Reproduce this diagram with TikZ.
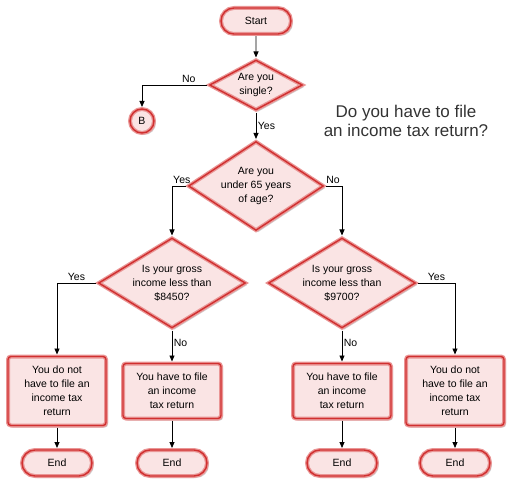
\documentclass[tikz,border=0pt]{standalone}
\usepackage{fontspec}
\setmainfont{Liberation Sans}
\usetikzlibrary{positioning, shapes.geometric, shapes.misc, arrows.meta, shadows}

\definecolor{boxfill}{RGB}{250,228,228}
\definecolor{boxedge}{RGB}{208,48,48}
\definecolor{boxglow}{RGB}{234,150,150}
\definecolor{titlegray}{RGB}{51,51,51}

\begin{document}
\begin{tikzpicture}[
  x=1pt, y=-1pt,
  >={Triangle[length=6pt,width=5pt]},
  every node/.style={font=\fontsize{10.5}{14}\selectfont},
  shapebase/.style={fill=boxfill, draw=boxglow, line width=4pt, align=center, inner sep=0pt,
    drop shadow={shadow xshift=2pt, shadow yshift=-2pt, opacity=0.18, fill=black},
    postaction={draw=boxedge, line width=1.4pt}},
  term/.style={shapebase, rounded rectangle, minimum width=70pt, minimum height=26pt},
  decision/.style={shapebase, diamond},
  result/.style={shapebase, rectangle, rounded corners=3pt, minimum width=98pt},
  conn/.style={shapebase, circle, minimum size=24pt},
  lbl/.style={inner sep=1.5pt},
  flow/.style={->, line width=0.8pt, black}
]
\useasboundingbox (0,0) rectangle (512,484);

% Top: start and marital status
\node[term] (start) at (256,21) {Start};
\node[decision, aspect=1.8, minimum width=94pt, minimum height=51pt] (single) at (256,85) {Are you\\single?};
\node[conn] (b) at (142,121) {B};
\node[font=\fontsize{17}{19.5}\selectfont, text=titlegray, align=center] (title) at (406,121)
  {Do you have to file\\an income tax return?};

% Age question
\node[decision, aspect=1.5, minimum width=136pt, minimum height=90pt] (age) at (256,186)
  {Are you\\under 65 years\\of age?};

% Income questions
\node[decision, aspect=1.61, minimum width=148pt, minimum height=91pt] (incyoung) at (172,283)
  {Is your gross\\income less than\\\$8450?};
\node[decision, aspect=1.61, minimum width=148pt, minimum height=91pt] (incold) at (342,283)
  {Is your gross\\income less than\\\$9700?};

% Answers
\node[result, minimum height=69pt] (nofile1) at (57,391) {You do not\\have to file an\\income tax\\return};
\node[result, minimum height=55pt] (file1) at (172,391) {You have to file\\an income\\tax return};
\node[result, minimum height=55pt] (file2) at (342,391) {You have to file\\an income\\tax return};
\node[result, minimum height=69pt] (nofile2) at (455,391) {You do not\\have to file an\\income tax\\return};

% Ends
\node[term] (end1) at (57,463) {End};
\node[term] (end2) at (172,463) {End};
\node[term] (end3) at (342,463) {End};
\node[term] (end4) at (455,463) {End};

% Connectors
\draw[flow] (start) -- (single);
\draw[flow] (single.west) -| node[lbl, pos=0.14, above] (lno1) {No} (b.north);
\draw[flow] (single) -- node[lbl, right] (lyes1) {Yes} (age);
\draw[flow] (age.west) -| node[lbl, pos=0.15, above] (lyes2) {Yes} (incyoung.north);
\draw[flow] (age.east) -| node[lbl, pos=0.22, above] (lno2) {No} (incold.north);
\draw[flow] (incyoung.west) -| node[lbl, pos=0.25, above] (lyes3) {Yes} (nofile1.north);
\draw[flow] (incyoung.south) -- node[lbl, pos=0.4, right] (lno3) {No} (file1.north);
\draw[flow] (incold.east) -| node[lbl, pos=0.25, above] (lyes4) {Yes} (nofile2.north);
\draw[flow] (incold.south) -- node[lbl, pos=0.4, right] (lno4) {No} (file2.north);
\foreach \a/\e in {nofile1/end1, file1/end2, file2/end3, nofile2/end4}
  \draw[flow] (\a) -- (\e);

\end{tikzpicture}
\end{document}
